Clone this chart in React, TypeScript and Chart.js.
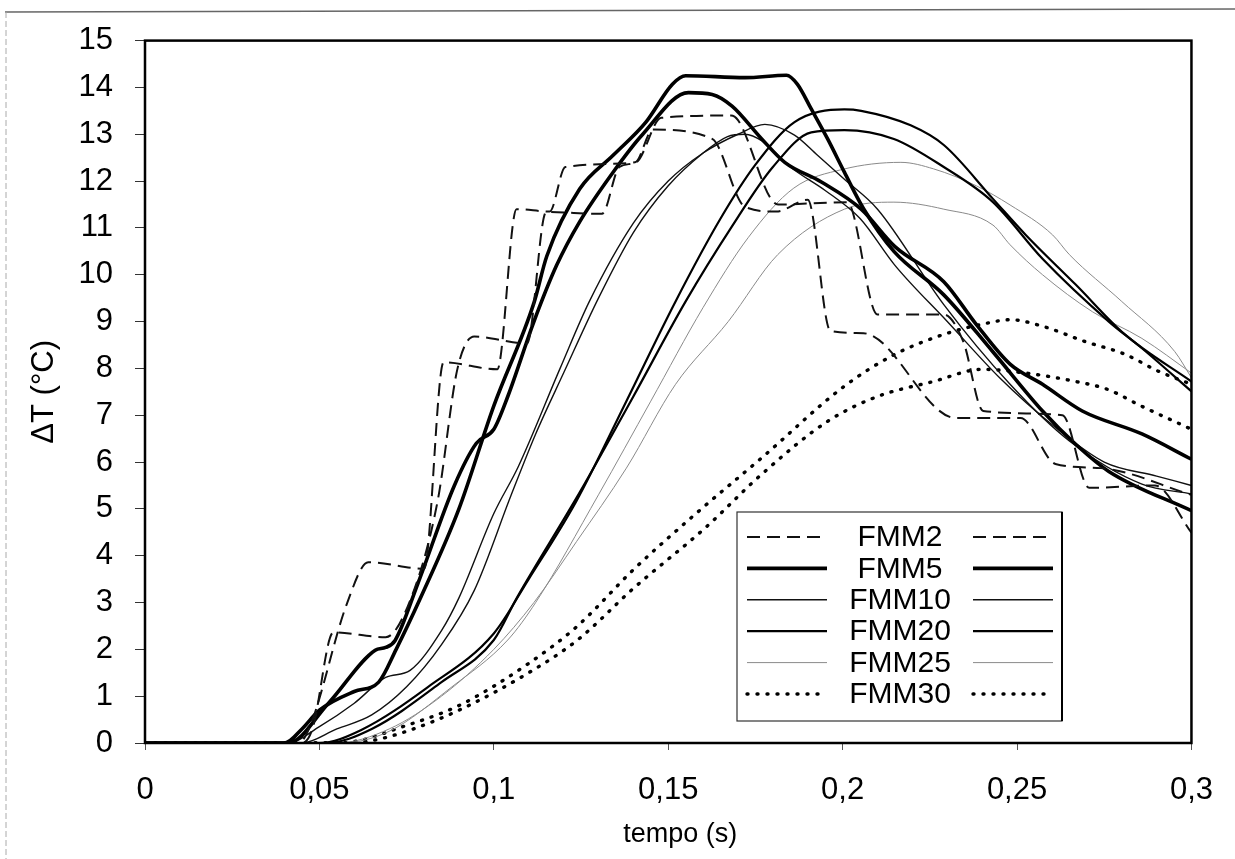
import React, { useEffect, useRef } from "react";
import { Chart, registerables } from "chart.js";

Chart.register(...registerables);

const FONT = "'Liberation Sans', Arial, Helvetica, sans-serif";

// ---- axis ticks ----
const xTickValues = [0, 0.05, 0.1, 0.15, 0.2, 0.25, 0.3];
const xTickLabels = ["0", "0,05", "0,1", "0,15", "0,2", "0,25", "0,3"];
const yTickValues = [0, 1, 2, 3, 4, 5, 6, 7, 8, 9, 10, 11, 12, 13, 14, 15];
const yTickLabels = yTickValues.map((v) => String(v));
const xTitle = "tempo (s)";
const yTitle = "ΔT (°C)";
const seriesNames = ["FMM2", "FMM5", "FMM10", "FMM20", "FMM25", "FMM30"];

// ---- FMM2 (dashed, two runs) ----
const fmm2aT = [0, 0.044, 0.047, 0.058, 0.064, 0.080, 0.0856, 0.101, 0.1065, 0.116, 0.1205, 0.1405, 0.1456, 0.1626, 0.172, 0.181, 0.19, 0.1965, 0.206, 0.2325, 0.251, 0.261, 0.274, 0.3];
const fmm2aV = [0, 0, 0.3, 3.0, 3.86, 3.72, 8.13, 7.98, 11.4, 11.35, 12.3, 12.4, 13.1, 12.9, 11.45, 11.35, 11.6, 8.8, 8.75, 6.94, 6.94, 5.96, 5.87, 5.3];
const fmm2bT = [0, 0.045, 0.048, 0.054, 0.069, 0.0763, 0.0839, 0.0896, 0.0944, 0.1095, 0.115, 0.131, 0.136, 0.1408, 0.148, 0.168, 0.17, 0.1815, 0.2013, 0.21, 0.229, 0.2346, 0.2403, 0.263, 0.2707, 0.2895, 0.3];
const fmm2bV = [0, 0, 0.3, 2.36, 2.26, 3.1, 5.17, 8.0, 8.68, 8.53, 11.34, 11.3, 12.3, 12.4, 13.35, 13.4, 13.3, 11.5, 11.55, 9.15, 9.15, 8.57, 7.09, 7.0, 5.45, 5.5, 4.49];

// ---- FMM5 (thick, two runs) ----
const fmm5aT = [0, 0.04, 0.045, 0.05, 0.06, 0.067, 0.072, 0.079, 0.09, 0.1, 0.1115, 0.1152, 0.1246, 0.1342, 0.1436, 0.1512, 0.155, 0.172, 0.1839, 0.187, 0.191, 0.1957, 0.2005, 0.206, 0.2147, 0.229, 0.243, 0.2573, 0.2668, 0.2763, 0.3];
const fmm5aV = [0, 0, 0.3, 0.7, 1.1, 1.3, 2.0, 3.1, 5.0, 7.2, 9.4, 10.4, 11.83, 12.55, 13.26, 14.07, 14.25, 14.21, 14.26, 14.07, 13.54, 12.9, 12.19, 11.41, 10.5, 9.57, 8.36, 7.09, 6.38, 5.8, 4.96];
const fmm5bT = [0, 0.041, 0.0526, 0.066, 0.069, 0.0717, 0.0782, 0.0887, 0.095, 0.1, 0.104, 0.1115, 0.118, 0.1246, 0.1342, 0.1427, 0.1558, 0.1626, 0.1683, 0.1768, 0.1834, 0.1939, 0.2053, 0.215, 0.229, 0.2383, 0.248, 0.2573, 0.2687, 0.2858, 0.3];
const fmm5bV = [0, 0, 0.85, 1.98, 2.04, 2.19, 3.4, 5.5, 6.4, 6.7, 7.4, 9.0, 10.2, 11.13, 12.19, 13.0, 13.89, 13.85, 13.6, 12.9, 12.4, 11.98, 11.4, 10.6, 9.85, 8.94, 8.09, 7.66, 7.09, 6.6, 6.06];

// ---- FMM10 (thin, two runs) ----
const fmm10aT = [0, 0.041, 0.05, 0.06, 0.069, 0.076, 0.085, 0.09, 0.1, 0.107, 0.119, 0.1274, 0.14, 0.15, 0.16, 0.17, 0.1777, 0.1862, 0.1928, 0.2005, 0.21, 0.229, 0.248, 0.265, 0.2858, 0.3];
const fmm10aV = [0, 0, 0.35, 0.85, 1.4, 1.55, 2.4, 3.1, 4.9, 5.9, 8.0, 9.43, 11.1, 12.0, 12.6, 13.0, 13.21, 12.98, 12.55, 12.04, 11.4, 9.36, 7.66, 6.45, 5.53, 5.32];
const fmm10bT = [0, 0.045, 0.055, 0.065, 0.075, 0.085, 0.0944, 0.105, 0.112, 0.12, 0.13, 0.14, 0.15, 0.16, 0.167, 0.172, 0.177, 0.185, 0.195, 0.205, 0.215, 0.23, 0.245, 0.26, 0.275, 0.29, 0.3];
const fmm10bV = [0, 0, 0.3, 0.6, 1.2, 2.1, 3.26, 5.3, 6.6, 7.9, 9.5, 10.9, 11.9, 12.6, 12.95, 13.0, 12.85, 12.3, 11.8, 11.2, 10.2, 9.0, 7.8, 6.8, 6.0, 5.7, 5.5];

// ---- FMM20 (medium, two runs) ----
const fmm20aT = [0, 0.05, 0.062, 0.081, 0.1, 0.11, 0.1237, 0.138, 0.1521, 0.165, 0.175, 0.1862, 0.2005, 0.2053, 0.2195, 0.229, 0.2431, 0.2525, 0.2668, 0.281, 0.3];
const fmm20aV = [0, 0, 0.28, 1.19, 2.34, 3.5, 5.17, 7.3, 9.43, 11.2, 12.35, 13.26, 13.53, 13.5, 13.19, 12.77, 11.62, 10.85, 9.79, 8.72, 7.72];
const fmm20bT = [0, 0.052, 0.065, 0.085, 0.1, 0.1066, 0.125, 0.14, 0.155, 0.168, 0.18, 0.191, 0.2005, 0.2147, 0.229, 0.2431, 0.2573, 0.2763, 0.2858, 0.3];
const fmm20bV = [0, 0, 0.3, 1.3, 2.2, 3.1, 5.4, 7.4, 9.43, 11.0, 12.3, 13.04, 13.09, 12.9, 12.3, 11.55, 10.34, 9.0, 8.43, 7.51];

// ---- FMM25 (light, two runs) ----
const fmm25aT = [0, 0.055, 0.07, 0.085, 0.1, 0.1115, 0.1237, 0.138, 0.1521, 0.1672, 0.1814, 0.2005, 0.2147, 0.229, 0.2431, 0.248, 0.2573, 0.2716, 0.2858, 0.3];
const fmm25aV = [0, 0, 0.3, 1.0, 2.0, 3.0, 4.3, 5.87, 7.66, 9.0, 10.43, 11.4, 11.55, 11.4, 11.06, 10.64, 10.0, 9.21, 8.64, 7.9];
const fmm25bT = [0, 0.056, 0.07, 0.088, 0.104, 0.112, 0.13, 0.145, 0.16, 0.173, 0.186, 0.2, 0.2167, 0.2261, 0.2383, 0.248, 0.2602, 0.265, 0.28, 0.2952, 0.3];
const fmm25bV = [0, 0, 0.25, 1.2, 2.2, 3.0, 5.3, 7.3, 9.3, 10.8, 11.85, 12.25, 12.4, 12.26, 11.9, 11.49, 10.85, 10.43, 9.43, 8.36, 7.8];

// ---- FMM30 (dotted, two runs) ----
const fmm30aT = [0, 0.055, 0.062, 0.072, 0.09, 0.11, 0.124, 0.14, 0.1578, 0.1768, 0.2005, 0.215, 0.23, 0.2411, 0.248, 0.2573, 0.2696, 0.281, 0.2905, 0.3];
const fmm30aV = [0, 0, 0.06, 0.3, 0.8, 1.7, 2.5, 3.7, 4.89, 6.09, 7.62, 8.3, 8.75, 8.96, 9.04, 8.9, 8.57, 8.3, 7.94, 7.66];
const fmm30bT = [0, 0.058, 0.065, 0.075, 0.09, 0.11, 0.124, 0.14, 0.1607, 0.1768, 0.1957, 0.21, 0.226, 0.24, 0.2525, 0.2668, 0.276, 0.2858, 0.3];
const fmm30bV = [0, 0, 0.05, 0.25, 0.7, 1.5, 2.2, 3.3, 4.6, 5.74, 6.87, 7.4, 7.72, 7.98, 7.9, 7.72, 7.55, 7.19, 6.7];

type Style = { color: string; width: number; dash: number[]; cap: CanvasLineCap };
const styles: Style[] = [
  { color: "#111", width: 2, dash: [13, 7], cap: "butt" },
  { color: "#000", width: 3.6, dash: [], cap: "butt" },
  { color: "#111", width: 1.4, dash: [], cap: "butt" },
  { color: "#000", width: 2.2, dash: [], cap: "butt" },
  { color: "#8a8a8a", width: 1, dash: [], cap: "butt" },
  { color: "#000", width: 3.4, dash: [1, 9], cap: "round" },
];

const runs: [number[], number[], number][] = [
  [fmm2aT, fmm2aV, 0], [fmm2bT, fmm2bV, 0],
  [fmm5aT, fmm5aV, 1], [fmm5bT, fmm5bV, 1],
  [fmm10aT, fmm10aV, 2], [fmm10bT, fmm10bV, 2],
  [fmm20aT, fmm20aV, 3], [fmm20bT, fmm20bV, 3],
  [fmm25aT, fmm25aV, 4], [fmm25bT, fmm25bV, 4],
  [fmm30aT, fmm30aV, 5], [fmm30bT, fmm30bV, 5],
];

const framePlugin = {
  id: "frameAndLegend",
  beforeDraw(chart: any) {
    const ctx = chart.ctx;
    ctx.save();
    ctx.fillStyle = "#fff";
    ctx.fillRect(0, 0, chart.width, chart.height);
    // scanned page frame
    ctx.strokeStyle = "#666";
    ctx.lineWidth = 1.5;
    ctx.beginPath();
    ctx.moveTo(5, 12);
    ctx.lineTo(chart.width, 9);
    ctx.stroke();
    ctx.strokeStyle = "#aaa";
    ctx.lineWidth = 1;
    ctx.setLineDash([6, 3]);
    ctx.beginPath();
    ctx.moveTo(6, 12);
    ctx.lineTo(6, chart.height);
    ctx.stroke();
    ctx.restore();
  },
  afterDatasetsDraw(chart: any) {
    const ctx = chart.ctx;
    const a = chart.chartArea;
    ctx.save();
    // plot frame
    ctx.strokeStyle = "#000";
    ctx.lineWidth = 2.5;
    ctx.setLineDash([]);
    ctx.strokeRect(a.left, a.top, a.right - a.left, a.bottom - a.top);

    // legend box
    const bx = 737, by = 512, bw = 325, bh = 209;
    ctx.fillStyle = "#fff";
    ctx.fillRect(bx, by, bw, bh);
    ctx.strokeStyle = "#333";
    ctx.lineWidth = 1.2;
    ctx.strokeRect(bx, by, bw, bh);
    ctx.lineWidth = 2;
    ctx.strokeStyle = "#000";
    ctx.beginPath();
    ctx.moveTo(bx + bw, by);
    ctx.lineTo(bx + bw, by + bh);
    ctx.stroke();

    ctx.font = `30px ${FONT}`;
    ctx.textAlign = "center";
    ctx.textBaseline = "middle";
    seriesNames.forEach((name, i) => {
      const y = 537 + i * 31.4;
      const st = styles[i];
      ctx.strokeStyle = st.color;
      ctx.lineWidth = st.width;
      ctx.lineCap = st.cap;
      ctx.setLineDash(st.dash);
      ctx.beginPath();
      ctx.moveTo(747, y);
      ctx.lineTo(827, y);
      ctx.moveTo(973, y);
      ctx.lineTo(1053, y);
      ctx.stroke();
      ctx.setLineDash([]);
      ctx.fillStyle = "#000";
      ctx.fillText(name, 900, y + 1);
    });

    // x axis title
    ctx.font = `27px ${FONT}`;
    ctx.fillStyle = "#000";
    ctx.textAlign = "center";
    ctx.textBaseline = "middle";
    ctx.fillText(xTitle, (a.left + a.right) / 2 + 12, 835);
    ctx.restore();
  },
};

export default function App() {
  const ref = useRef<HTMLCanvasElement>(null);
  useEffect(() => {
    document.body.style.margin = "0";
    const canvas = ref.current;
    if (!canvas) return;
    const datasets = runs.map(([ts, vs, k], i) => {
      const st = styles[k];
      return {
        label: seriesNames[k] + (i % 2 === 0 ? "" : " "),
        data: ts.map((t, j) => ({ x: t, y: vs[j] })),
        borderColor: st.color,
        borderWidth: st.width,
        borderDash: st.dash,
        borderCapStyle: st.cap,
        pointRadius: 0,
        fill: false,
        cubicInterpolationMode: "monotone" as const,
      };
    });
    const chart = new Chart(canvas, {
      type: "line",
      data: { datasets },
      plugins: [framePlugin],
      options: {
        animation: false,
        responsive: false,
        maintainAspectRatio: false,
        layout: { padding: { left: 0, right: 35, top: 38, bottom: 0 } },
        plugins: { legend: { display: false }, tooltip: { enabled: false } },
        scales: {
          x: {
            type: "linear",
            min: 0,
            max: 0.3,
            afterBuildTicks: (s: any) => {
              s.ticks = xTickValues.map((v) => ({ value: v }));
            },
            afterFit: (s: any) => {
              s.height = 116;
            },
            ticks: {
              callback: (_v: any, idx: number) => xTickLabels[idx],
              font: { family: FONT, size: 31 },
              color: "#000",
              padding: 22,
              maxRotation: 0,
              autoSkip: false,
            },
            grid: { display: true, drawOnChartArea: false, drawTicks: true, tickLength: 7, color: "#555", lineWidth: 1 },
            border: { display: false },
          },
          y: {
            type: "linear",
            min: 0,
            max: 15,
            afterBuildTicks: (s: any) => {
              s.ticks = yTickValues.map((v) => ({ value: v }));
            },
            afterFit: (s: any) => {
              s.width = 145;
            },
            ticks: {
              callback: (_v: any, idx: number) => yTickLabels[idx],
              font: { family: FONT, size: 31 },
              color: "#000",
              padding: 22,
              autoSkip: false,
            },
            grid: { display: true, drawOnChartArea: false, drawTicks: true, tickLength: 10, color: "#333", lineWidth: 1 },
            border: { display: false },
            title: {
              display: true,
              text: yTitle,
              font: { family: FONT, size: 31 },
              color: "#000",
              padding: { top: 26, bottom: 0 },
            },
          },
        },
      },
    });
    return () => chart.destroy();
  }, []);
  return (
    <div style={{ width: 1235, height: 859, position: "relative" }}>
      <canvas ref={ref} width={1235} height={859} style={{ display: "block" }} />
    </div>
  );
}
